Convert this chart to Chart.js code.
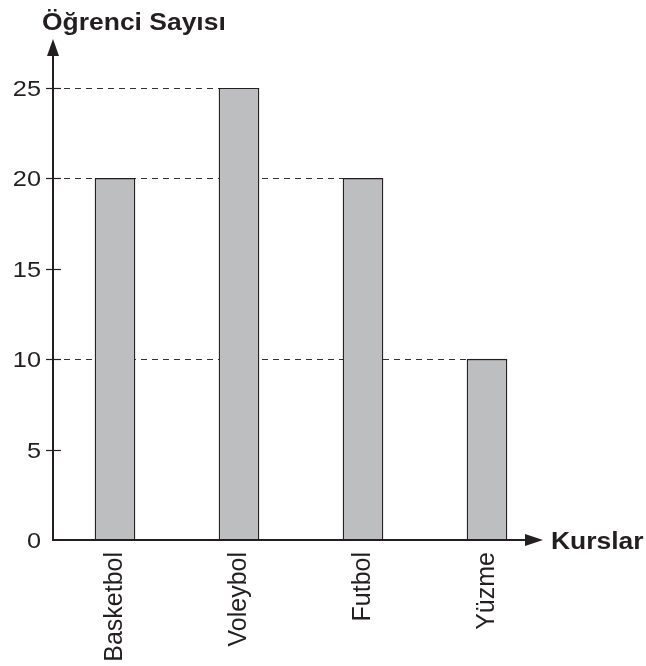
<!DOCTYPE html>
<html>
<head>
<meta charset="utf-8">
<script src="https://cdn.jsdelivr.net/npm/chart.js@4"></script>
<style>
  html, body { margin: 0; padding: 0; background: #fff; }
  #wrap { width: 646px; height: 666px; }
</style>
</head>
<body>
<div id="wrap"><canvas id="kursChart"></canvas></div>
<script>
const kurslar = ["Basketbol", "Voleybol", "Futbol", "Yüzme"];
const ogrenciSayisi = [20, 25, 20, 10];
const yTicks = [0, 5, 10, 15, 20, 25];
const yTitle = "Öğrenci Sayısı";
const xTitle = "Kurslar";

const ink = "#231f20";

// text in the reference is a bit wider than plain Arial
function wideText(ctx, text, x, y, font, align, baseline, stretch, rotate) {
  ctx.save();
  ctx.translate(x, y);
  ctx.scale(stretch, 1);
  if (rotate) ctx.rotate(-Math.PI / 2);
  ctx.font = font;
  ctx.textAlign = align;
  ctx.textBaseline = baseline;
  ctx.fillStyle = ink;
  ctx.fillText(text, 0, 0);
  ctx.restore();
}

// dashed guides, hand drawn axes with arrows, ticks and labels
const axesPlugin = {
  id: "axesPlugin",
  beforeDatasetsDraw(chart) {
    const ctx = chart.ctx;
    const area = chart.chartArea;
    const bars = chart.getDatasetMeta(0).data;
    ctx.save();
    ctx.strokeStyle = "#333";
    ctx.lineWidth = 1.1;
    ctx.setLineDash([6, 5]);
    bars.forEach(b => {
      const left = b.x - b.width / 2;
      ctx.beginPath();
      ctx.moveTo(area.left, Math.round(b.y) + 0.5);
      ctx.lineTo(left, Math.round(b.y) + 0.5);
      ctx.stroke();
    });
    ctx.restore();
  },
  afterDraw(chart) {
    const ctx = chart.ctx;
    const area = chart.chartArea;
    const y = chart.scales.y;
    const x = chart.scales.x;
    const ax = area.left;
    const ay = area.bottom;

    ctx.save();
    ctx.strokeStyle = ink;
    ctx.fillStyle = ink;
    ctx.lineWidth = 2;
    // y axis
    ctx.beginPath();
    ctx.moveTo(ax, ay + 1);
    ctx.lineTo(ax, 52);
    ctx.stroke();
    ctx.beginPath();
    ctx.moveTo(ax, 39);
    ctx.lineTo(ax - 6, 56);
    ctx.lineTo(ax + 6, 56);
    ctx.closePath();
    ctx.fill();
    // x axis
    ctx.beginPath();
    ctx.moveTo(ax - 1, ay);
    ctx.lineTo(528, ay);
    ctx.stroke();
    ctx.beginPath();
    ctx.moveTo(543, ay);
    ctx.lineTo(525, ay - 6);
    ctx.lineTo(525, ay + 6);
    ctx.closePath();
    ctx.fill();

    // y ticks
    ctx.lineWidth = 1.2;
    yTicks.forEach(v => {
      const py = Math.round(y.getPixelForValue(v)) + 0.5;
      if (v !== 0) {
        ctx.beginPath();
        ctx.moveTo(ax - 7, py);
        ctx.lineTo(ax + 8, py);
        ctx.stroke();
      }
      wideText(ctx, String(v), 41, py + 1, "22px 'Liberation Sans', Arial, sans-serif", "right", "middle", 1.15);
    });
    ctx.restore();

    // category labels, rotated
    kurslar.forEach((k, i) => {
      const px = x.getPixelForValue(i);
      wideText(ctx, k, px, 552, "25px 'Liberation Sans', Arial, sans-serif", "right", "middle", 1.05, true);
    });

    // axis titles
    wideText(ctx, yTitle, 42, 30, "bold 23px 'Liberation Sans', Arial, sans-serif", "left", "alphabetic", 1.15);
    wideText(ctx, xTitle, 551, 549, "bold 23px 'Liberation Sans', Arial, sans-serif", "left", "alphabetic", 1.15);
  }
};

new Chart(document.getElementById("kursChart"), {
  type: "bar",
  data: {
    labels: kurslar,
    datasets: [{
      label: yTitle,
      data: ogrenciSayisi,
      backgroundColor: "#bcbec0",
      borderColor: ink,
      borderWidth: 1.3,
      barThickness: 40
    }]
  },
  options: {
    responsive: true,
    maintainAspectRatio: false,
    animation: false,
    layout: { padding: { left: 53, right: 97, top: 88, bottom: 126 } },
    plugins: {
      legend: { display: false },
      tooltip: { enabled: false }
    },
    scales: {
      x: { display: false, offset: true },
      y: { display: false, min: 0, max: 25, ticks: { stepSize: 5 } }
    }
  },
  plugins: [axesPlugin]
});
</script>
</body>
</html>
